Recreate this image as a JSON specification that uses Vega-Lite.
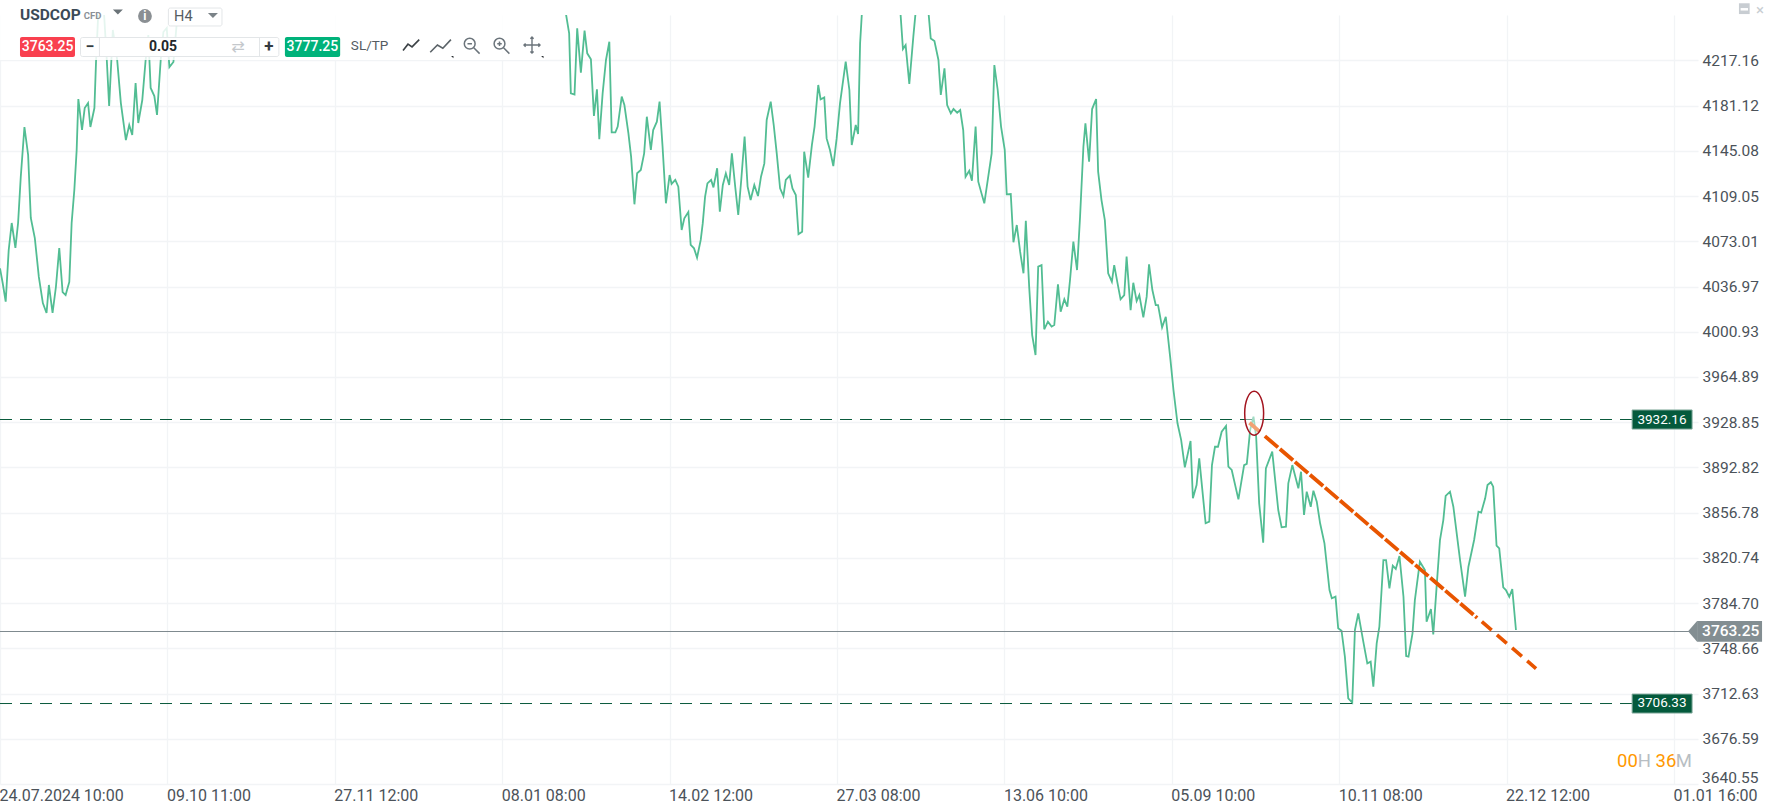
{"$schema":"https://vega.github.io/schema/vega-lite/v6.json","width":1698,"height":769,"autosize":{"type":"none"},"padding":{"left":0,"top":15,"right":67,"bottom":26},"background":"white","config":{"font":"Roboto","view":{"stroke":null},"axis":{"title":null}},"data":{"values":[{}]},"layer":[
{"data":{"values":[
{"bar":0,"price":4051.5},{"bar":0.8,"price":4039.8},{"bar":1.7,"price":4024.9},{"bar":2.6,"price":4066.1},{"bar":3.5,"price":4087.6},{"bar":4.6,"price":4067.7},{"bar":5.4,"price":4087.6},{"bar":6.2,"price":4124.3},{"bar":7.3,"price":4164.1},{"bar":8.4,"price":4141.8},{"bar":9.2,"price":4091.6},{"bar":10.4,"price":4075.6},{"bar":11.6,"price":4044.6},{"bar":12.8,"price":4023.8},{"bar":13.9,"price":4015.9},{"bar":14.6,"price":4038.2},{"bar":15.7,"price":4015.9},{"bar":16.7,"price":4036.6},{"bar":17.7,"price":4067.7},{"bar":18.7,"price":4032.6},{"bar":19.6,"price":4030.2},{"bar":20.7,"price":4040.6},{"bar":21.4,"price":4087.6},{"bar":22.2,"price":4113.9},{"bar":22.9,"price":4145.8},{"bar":23.4,"price":4186.4},{"bar":24.5,"price":4161.7},{"bar":25.3,"price":4179.2},{"bar":26.3,"price":4183.2},{"bar":27,"price":4164.1},{"bar":28.2,"price":4179.2},{"bar":28.7,"price":4217.5},{"bar":29.3,"price":4251.8},{"bar":30.2,"price":4258},{"bar":31.1,"price":4253.35},{"bar":31.9,"price":4217.5},{"bar":32.6,"price":4180.8},{"bar":33.7,"price":4241.4},{"bar":35,"price":4217.5},{"bar":36.1,"price":4183.2},{"bar":37.6,"price":4153.7},{"bar":38.6,"price":4165.7},{"bar":39.5,"price":4157.7},{"bar":40.5,"price":4199.2},{"bar":41.3,"price":4167.3},{"bar":42.5,"price":4185.6},{"bar":43.5,"price":4217.5},{"bar":44.3,"price":4237.4},{"bar":45,"price":4195.2},{"bar":46.1,"price":4188.8},{"bar":46.9,"price":4173.7},{"bar":48,"price":4217.5},{"bar":48.8,"price":4239.8},{"bar":49.8,"price":4243},{"bar":50.6,"price":4211.9},{"bar":51.8,"price":4215.9},{"bar":52.8,"price":4247},{"bar":53.3,"price":4253.35},{"bar":55,"price":4300},{"bar":100,"price":4320},{"bar":160,"price":4300},{"bar":168,"price":4270},
{"bar":169.1,"price":4253.3},{"bar":170,"price":4238.7},{"bar":170.5,"price":4190.9},{"bar":171.6,"price":4189.9},{"bar":172.4,"price":4242.7},{"bar":173.5,"price":4207.4},{"bar":174.6,"price":4240.9},{"bar":175.4,"price":4222.8},{"bar":176.5,"price":4218},{"bar":177.4,"price":4172.9},{"bar":178.3,"price":4194.1},{"bar":179,"price":4154.3},{"bar":180,"price":4190.9},{"bar":181,"price":4217.5},{"bar":182,"price":4232.1},{"bar":182.7,"price":4159.8},{"bar":183.8,"price":4159.8},{"bar":184.5,"price":4164.4},{"bar":185.7,"price":4188.3},{"bar":186.5,"price":4181.6},{"bar":187.7,"price":4159},{"bar":188.5,"price":4140.5},{"bar":189.5,"price":4102.5},{"bar":190.3,"price":4127.2},{"bar":191.4,"price":4129.8},{"bar":192.4,"price":4143.1},{"bar":193.2,"price":4172.3},{"bar":194.4,"price":4145.8},{"bar":195.1,"price":4161.7},{"bar":196.2,"price":4168.3},{"bar":197,"price":4184.3},{"bar":197.9,"price":4148.4},{"bar":198.9,"price":4103.3},{"bar":200,"price":4125.8},{"bar":200.6,"price":4118.7},{"bar":201.7,"price":4121.9},{"bar":202.6,"price":4116.5},{"bar":203.6,"price":4082},{"bar":204.4,"price":4091.3},{"bar":205.6,"price":4096.4},{"bar":206.3,"price":4070.1},{"bar":207.3,"price":4067.4},{"bar":208.2,"price":4060},{"bar":209.3,"price":4074.1},{"bar":209.9,"price":4087.3},{"bar":210.6,"price":4108.6},{"bar":211.3,"price":4119.2},{"bar":212.4,"price":4121.9},{"bar":213.1,"price":4116},{"bar":214.2,"price":4131.2},{"bar":215,"price":4096.6},{"bar":215.9,"price":4117.9},{"bar":216.8,"price":4127.2},{"bar":217.8,"price":4117.9},{"bar":218.6,"price":4143.1},{"bar":219.6,"price":4116.5},{"bar":220.5,"price":4094},{"bar":221.4,"price":4121.9},{"bar":222.4,"price":4156.4},{"bar":223.3,"price":4116.5},{"bar":224.2,"price":4105.9},{"bar":225.3,"price":4117.9},{"bar":226.4,"price":4109.1},{"bar":227.3,"price":4124.5},{"bar":228.3,"price":4135.1},{"bar":229,"price":4169.7},{"bar":230.2,"price":4184.3},{"bar":231.1,"price":4165.7},{"bar":232,"price":4143.1},{"bar":233,"price":4115.2},{"bar":234,"price":4109.1},{"bar":234.7,"price":4121.9},{"bar":235.9,"price":4125.3},{"bar":236.7,"price":4115.2},{"bar":237.7,"price":4109.9},{"bar":238.5,"price":4078.8},{"bar":239.6,"price":4080.7},{"bar":240.2,"price":4144.4},{"bar":241.4,"price":4123.7},{"bar":242.5,"price":4149.7},{"bar":243.3,"price":4164.4},{"bar":244.4,"price":4197.6},{"bar":245.1,"price":4186.1},{"bar":246.2,"price":4187.7},{"bar":246.9,"price":4155},{"bar":247.9,"price":4145.8},{"bar":248.9,"price":4133},{"bar":249.9,"price":4155},{"bar":250.9,"price":4182.9},{"bar":252.6,"price":4216.2},{"bar":253.7,"price":4193.6},{"bar":254.4,"price":4149.7},
{"bar":255.6,"price":4165.7},{"bar":256.3,"price":4158.5},{"bar":256.9,"price":4230.8},{"bar":257.4,"price":4253.3},{"bar":258,"price":4270},{"bar":262,"price":4300},{"bar":268,"price":4270},{"bar":269,"price":4253.3},{"bar":269.7,"price":4226.2},{"bar":270.5,"price":4229.4},{"bar":271.6,"price":4198.4},{"bar":272.8,"price":4236.1},{"bar":273.4,"price":4253.3},{"bar":275,"price":4262},{"bar":277.4,"price":4253.3},{"bar":278,"price":4234.7},{"bar":279.1,"price":4232.6},{"bar":280.3,"price":4217.5},{"bar":281,"price":4189.6},{"bar":282.1,"price":4210.8},{"bar":282.9,"price":4181.6},{"bar":284,"price":4175},{"bar":284.8,"price":4178.4},{"bar":285.9,"price":4175.5},{"bar":286.8,"price":4177.6},{"bar":287.7,"price":4161.7},{"bar":288.4,"price":4124.5},{"bar":289.5,"price":4129.3},{"bar":290.3,"price":4121.3},{"bar":291.4,"price":4164.4},{"bar":292.2,"price":4120.5},{"bar":293.1,"price":4111.8},{"bar":294,"price":4103.3},{"bar":295.1,"price":4123.2},{"bar":296.2,"price":4143.1},{"bar":297,"price":4213.5},{"bar":298,"price":4193.6},{"bar":299,"price":4164.4},{"bar":300.1,"price":4145.8},{"bar":300.7,"price":4110.4},{"bar":301.9,"price":4110.7},{"bar":302.7,"price":4072.2},{"bar":303.7,"price":4086},{"bar":304.7,"price":4064.7},{"bar":305.7,"price":4047.5},{"bar":306.4,"price":4089.4},{"bar":307.4,"price":4036.9},{"bar":308.3,"price":3998.3},{"bar":309.3,"price":3982.4},{"bar":310.1,"price":4052.8},{"bar":311.1,"price":4054.1},{"bar":311.9,"price":4002.9},{"bar":313,"price":4009},{"bar":314.1,"price":4005},{"bar":314.9,"price":4006.3},{"bar":316,"price":4038.7},{"bar":316.8,"price":4016.9},{"bar":317.9,"price":4026.8},{"bar":318.8,"price":4020.9},{"bar":319.6,"price":4042.2},{"bar":320.6,"price":4072.7},{"bar":321.7,"price":4050.1},{"bar":322.6,"price":4092.6},{"bar":323.6,"price":4148.4},{"bar":324.2,"price":4167},{"bar":325.3,"price":4136.5},{"bar":326.2,"price":4178.4},{"bar":327.4,"price":4186.4},{"bar":328,"price":4128.5},{"bar":329,"price":4105.9},{"bar":330,"price":4090},{"bar":331,"price":4047.5},{"bar":332.1,"price":4040.8},{"bar":332.8,"price":4054.1},{"bar":333.8,"price":4039.5},{"bar":334.7,"price":4026.8},{"bar":335.8,"price":4030.2},{"bar":336.5,"price":4060.8},{"bar":337.7,"price":4018.2},{"bar":338.5,"price":4040},{"bar":339.5,"price":4025.4},{"bar":340.3,"price":4030.2},{"bar":341.5,"price":4012.4},{"bar":342.5,"price":4028.9},{"bar":343.2,"price":4054.7},
{"bar":344.2,"price":4034.2},{"bar":345.2,"price":4022.2},{"bar":345.9,"price":4022.2},{"bar":347.1,"price":4004.4},{"bar":348.2,"price":4012.9},{"bar":349.5,"price":3981.1},{"bar":350.5,"price":3954.5},{"bar":351.7,"price":3928},{"bar":352.8,"price":3914.6},{"bar":353.9,"price":3892.9},{"bar":355.6,"price":3913.9},{"bar":356.3,"price":3868.2},{"bar":357.4,"price":3878.8},{"bar":358.2,"price":3900},{"bar":360.1,"price":3848.3},{"bar":361.2,"price":3849.6},{"bar":362,"price":3894.7},{"bar":362.9,"price":3909.3},{"bar":363.8,"price":3909.3},{"bar":364.9,"price":3921.3},{"bar":366.2,"price":3925.8},
{"bar":366.9,"price":3893.4},{"bar":367.9,"price":3890.8},{"bar":369.9,"price":3867.4},{"bar":371.6,"price":3894.7},{"bar":372.4,"price":3895.6},{"bar":373.4,"price":3922.6},{"bar":374.4,"price":3933.3},{"bar":375.2,"price":3917.3},{"bar":376.1,"price":3864.2},{"bar":377.3,"price":3832.8},{"bar":378.1,"price":3892.1},{"bar":380,"price":3905.4},{"bar":381.8,"price":3858.9},{"bar":382.8,"price":3845.1},{"bar":384.1,"price":3845.6},{"bar":384.8,"price":3880.1},{"bar":386,"price":3894.7},{"bar":387.8,"price":3876.2},{"bar":388.6,"price":3889.4},{"bar":389.5,"price":3854.9},{"bar":390.3,"price":3873.5},{"bar":391.5,"price":3861.5},{"bar":392.3,"price":3874.3},{"bar":393.3,"price":3865.5},{"bar":394.3,"price":3848.3},{"bar":395.6,"price":3832.3},{"bar":397.1,"price":3795.1},{"bar":397.8,"price":3788.5},{"bar":398.9,"price":3789.8},{"bar":399.7,"price":3764.6},{"bar":400.7,"price":3762.7},{"bar":401.7,"price":3742},{"bar":402.7,"price":3708.8},{"bar":403.9,"price":3705.4},{"bar":404.7,"price":3763.3},{"bar":405.7,"price":3776.5},{"bar":407.2,"price":3754},{"bar":408.4,"price":3736.7},{"bar":409.4,"price":3738},{"bar":410.2,"price":3718.1},{"bar":411.2,"price":3752.6},{"bar":412,"price":3765.9},{"bar":413.2,"price":3819},{"bar":414,"price":3819},{"bar":415,"price":3796.5},{"bar":416,"price":3814.5},{"bar":416.9,"price":3811.9},{"bar":418,"price":3822.2},{"bar":419.2,"price":3789.8},{"bar":420,"price":3742.5},{"bar":420.7,"price":3742},{"bar":421.9,"price":3760.6},{"bar":422.6,"price":3787.1},{"bar":424.1,"price":3817.7},{"bar":425.6,"price":3811.1},{"bar":426.1,"price":3769.9},{"bar":427.4,"price":3780},{"bar":428.1,"price":3759.8},{"bar":429.1,"price":3797.8},{"bar":430.1,"price":3835},{"bar":431.1,"price":3850.9},{"bar":431.8,"price":3870.1},{"bar":433.1,"price":3873.5},{"bar":434.1,"price":3861.5},{"bar":436.1,"price":3819},{"bar":437.6,"price":3789.8},{"bar":438.6,"price":3813.7},{"bar":440.3,"price":3835},{"bar":441.6,"price":3857.6},{"bar":442.4,"price":3856.8},{"bar":443.6,"price":3868.2},{"bar":444.3,"price":3878.8},{"bar":445.3,"price":3881},{"bar":446,"price":3877.5},{"bar":447,"price":3830.5},{"bar":447.8,"price":3828.3},{"bar":449,"price":3797.3},{"bar":449.8,"price":3795.1},{"bar":450.8,"price":3789.8},{"bar":451.7,"price":3795.9},{"bar":452.8,"price":3763.25}
]},
"mark":{"type":"line","color":"#52bd93","strokeWidth":1.8,"clip":true,"interpolate":"linear"},
"encoding":{
"x":{"field":"bar","type":"quantitative","scale":{"domain":[0,507.17],"nice":false,"zero":false},"axis":{"orient":"bottom","values":[0,50,100,150,200,250,300,350,400,450,500],"labelExpr":"['24.07.2024 10:00','09.10 11:00','27.11 12:00','08.01 08:00','14.02 12:00','27.03 08:00','13.06 10:00','05.09 10:00','10.11 08:00','22.12 12:00','01.01 16:00'][datum.value/50]","labelAlign":"left","labelBaseline":"top","labelPadding":3,"labelOffset":-1,"labelFontSize":16,"labelColor":"#4b5259","labelOverlap":false,"labelFlush":false,"labelBound":false,"ticks":false,"domain":false,"grid":true,"gridColor":"#f2f4f6","gridWidth":1.3}},
"y":{"field":"price","type":"quantitative","scale":{"domain":[3640.55,4253.35],"nice":false,"zero":false},"axis":{"orient":"right","values":[4217.16,4181.12,4145.08,4109.05,4073.01,4036.97,4000.93,3964.89,3928.85,3892.82,3856.78,3820.74,3784.7,3748.66,3712.63,3676.59,3640.55],"labelExpr":"datum.value<3641?'':format(datum.value,'.2f')","labelPadding":4,"labelFontSize":15.5,"labelColor":"#4b5259","labelOverlap":false,"labelFlush":false,"labelBound":false,"ticks":false,"domain":false,"grid":true,"gridColor":"#f2f4f6","gridWidth":1.3}}
}},
{"mark":{"type":"text","text":"3640.55","color":"#4b5259","fontSize":15.5,"align":"left","baseline":"middle"},"encoding":{"x":{"datum":508.4},"y":{"datum":3645.3}}},
{"mark":{"type":"rule","color":"#0a5a3c","strokeWidth":1,"strokeDash":[12,8]},"encoding":{"x":{"datum":0},"x2":{"datum":487.5},"y":{"datum":3931}}},
{"mark":{"type":"rule","color":"#0a5a3c","strokeWidth":1,"strokeDash":[12,8]},"encoding":{"x":{"datum":0},"x2":{"datum":487.5},"y":{"datum":3704.68}}},
{"mark":{"type":"rule","color":"#7f8a8f","strokeWidth":1},"encoding":{"x":{"datum":0},"x2":{"datum":505},"y":{"datum":3762.07}}},
{"data":{"values":[{"bar":373.2,"price":3928.4},{"bar":376.3,"price":3921.1}]},"mark":{"type":"line","color":"#e85500","strokeWidth":3.8},"encoding":{"x":{"field":"bar","type":"quantitative"},"y":{"field":"price","type":"quantitative"}}},
{"data":{"values":[{"bar":377.8,"price":3917.8},{"bar":441.2,"price":3772.9}]},"mark":{"type":"line","color":"#e85500","strokeWidth":3.8,"strokeDash":[17.3,2.5]},"encoding":{"x":{"field":"bar","type":"quantitative"},"y":{"field":"price","type":"quantitative"}}},
{"data":{"values":[{"bar":442.6,"price":3769.9},{"bar":458.8,"price":3732.5}]},"mark":{"type":"line","color":"#e85500","strokeWidth":3.6,"strokeDash":[13,7]},"encoding":{"x":{"field":"bar","type":"quantitative"},"y":{"field":"price","type":"quantitative"}}},
{"mark":{"type":"point","shape":"M-0.43,0A0.43,1 0 1,1 0.43,0A0.43,1 0 1,1 -0.43,0Z","size":1936,"filled":true,"fill":"white","fillOpacity":0.45,"stroke":"#a3141f","strokeOpacity":1,"strokeWidth":1.5,"opacity":1},"encoding":{"x":{"datum":374.6},"y":{"datum":3936}}},
{"mark":{"type":"rect","fill":"#045a3c","stroke":"#7fa89a","strokeWidth":1},"encoding":{"x":{"datum":487.5},"x2":{"datum":505.4},"y":{"datum":3938.6},"y2":{"datum":3923.4}}},
{"mark":{"type":"rect","fill":"#045a3c","stroke":"#7fa89a","strokeWidth":1},"encoding":{"x":{"datum":487.5},"x2":{"datum":505.4},"y":{"datum":3712.2},"y2":{"datum":3697.1}}},
{"mark":{"type":"text","text":"3932.16","color":"white","fontSize":13.5,"align":"center","baseline":"middle"},"encoding":{"x":{"datum":496.4},"y":{"datum":3930.6}}},
{"mark":{"type":"text","text":"3706.33","color":"white","fontSize":13.5,"align":"center","baseline":"middle"},"encoding":{"x":{"datum":496.4},"y":{"datum":3704.7}}},
{"mark":{"type":"rect","fill":"#838e92"},"encoding":{"x":{"datum":506.9},"x2":{"datum":526.3},"y":{"datum":3770.4},"y2":{"datum":3753.9}}},
{"mark":{"type":"point","shape":"M-0.9,0L0,-1.03L0,1.03Z","size":400,"filled":true,"fill":"#838e92","stroke":null,"opacity":1},"encoding":{"x":{"datum":506.9},"y":{"datum":3762.2}}},
{"mark":{"type":"text","text":"3763.25","color":"white","fontSize":15.5,"fontWeight":500,"align":"left","baseline":"middle"},"encoding":{"x":{"datum":508.4},"y":{"datum":3762.3}}},
{"mark":{"type":"text","text":"00","color":"#ff9800","fontSize":18.5,"align":"left","baseline":"middle"},"encoding":{"x":{"datum":483},"y":{"datum":3659.1}}},
{"mark":{"type":"text","text":"H","color":"#b8bec3","fontSize":18.5,"align":"left","baseline":"middle"},"encoding":{"x":{"datum":489.2},"y":{"datum":3659.1}}},
{"mark":{"type":"text","text":"36","color":"#ff9800","fontSize":18.5,"align":"left","baseline":"middle"},"encoding":{"x":{"datum":494.5},"y":{"datum":3659.1}}},
{"mark":{"type":"text","text":"M","color":"#b8bec3","fontSize":18.5,"align":"left","baseline":"middle"},"encoding":{"x":{"datum":500.5},"y":{"datum":3659.1}}},
{"mark":{"type":"rect","fill":"white","opacity":0.85},"encoding":{"x":{"datum":0},"x2":{"datum":162.8},"y":{"datum":4253.35},"y2":{"datum":4217.5}}},
{"mark":{"type":"text","text":"USDCOP","color":"#3b4a57","fontSize":15.5,"fontWeight":"bold","align":"left","baseline":"middle"},"encoding":{"x":{"datum":5.97},"y":{"datum":4253.35}}},
{"mark":{"type":"text","text":"CFD","color":"#8a9096","fontSize":9.5,"fontWeight":"bold","align":"left","baseline":"middle"},"encoding":{"x":{"datum":25},"y":{"datum":4252.55}}},
{"mark":{"type":"point","shape":"M-1,-0.5L1,-0.5L0,0.5Z","size":100,"filled":true,"fill":"#6b7378","stroke":null,"opacity":1},"encoding":{"x":{"datum":35.2},"y":{"datum":4255.7}}},
{"mark":{"type":"point","shape":"circle","size":190,"filled":true,"fill":"#8a8f93","stroke":null,"opacity":1},"encoding":{"x":{"datum":43.3},"y":{"datum":4252.55}}},
{"mark":{"type":"text","text":"i","color":"white","fontSize":12,"fontWeight":"bold","align":"center","baseline":"middle"},"encoding":{"x":{"datum":43.3},"y":{"datum":4252.55}}},
{"mark":{"type":"rect","fill":"white","stroke":"#e3e6e8","strokeWidth":1,"cornerRadius":2},"encoding":{"x":{"datum":50.3},"x2":{"datum":66.3},"y":{"datum":4258.9},"y2":{"datum":4244.6}}},
{"mark":{"type":"text","text":"H4","color":"#555c62","fontSize":14.5,"align":"left","baseline":"middle"},"encoding":{"x":{"datum":52},"y":{"datum":4251.75}}},
{"mark":{"type":"point","shape":"M-1,-0.5L1,-0.5L0,0.5Z","size":100,"filled":true,"fill":"#7b8388","stroke":null,"opacity":1},"encoding":{"x":{"datum":63.6},"y":{"datum":4252.95}}},
{"mark":{"type":"rect","fill":"#f9404f","cornerRadius":2},"encoding":{"x":{"datum":5.97},"x2":{"datum":22.4},"y":{"datum":4235.8},"y2":{"datum":4219.9}}},
{"mark":{"type":"text","text":"3763.25","color":"white","fontSize":14,"fontWeight":500,"align":"center","baseline":"middle"},"encoding":{"x":{"datum":14.2},"y":{"datum":4228.2}}},
{"mark":{"type":"rect","fill":"white","stroke":"#e3e6e8","strokeWidth":1,"cornerRadius":2},"encoding":{"x":{"datum":24.04},"x2":{"datum":83.3},"y":{"datum":4235.4},"y2":{"datum":4220.3}}},
{"mark":{"type":"rule","color":"#e3e6e8","strokeWidth":1},"encoding":{"x":{"datum":29.7},"y":{"datum":4235.4},"y2":{"datum":4220.3}}},
{"mark":{"type":"rule","color":"#e3e6e8","strokeWidth":1},"encoding":{"x":{"datum":77.5},"y":{"datum":4235.4},"y2":{"datum":4220.3}}},
{"mark":{"type":"text","text":"−","color":"#333a40","fontSize":16,"fontWeight":"bold","align":"center","baseline":"middle"},"encoding":{"x":{"datum":26.9},"y":{"datum":4228.2}}},
{"mark":{"type":"text","text":"0.05","color":"#22272b","fontSize":14,"fontWeight":"bold","align":"center","baseline":"middle"},"encoding":{"x":{"datum":48.7},"y":{"datum":4228.2}}},
{"mark":{"type":"text","text":"⇄","color":"#c4c8cc","font":"DejaVu Sans","fontSize":16,"align":"center","baseline":"middle"},"encoding":{"x":{"datum":71.1},"y":{"datum":4228.2}}},
{"mark":{"type":"text","text":"+","color":"#333a40","fontSize":17,"fontWeight":"bold","align":"center","baseline":"middle"},"encoding":{"x":{"datum":80.3},"y":{"datum":4228.2}}},
{"mark":{"type":"rect","fill":"#00b27a","cornerRadius":2},"encoding":{"x":{"datum":85.1},"x2":{"datum":101.6},"y":{"datum":4235.8},"y2":{"datum":4219.9}}},
{"mark":{"type":"text","text":"3777.25","color":"white","fontSize":14,"fontWeight":500,"align":"center","baseline":"middle"},"encoding":{"x":{"datum":93.3},"y":{"datum":4228.2}}},
{"mark":{"type":"text","text":"SL/TP","color":"#555c62","fontSize":13.5,"align":"left","baseline":"middle"},"encoding":{"x":{"datum":104.8},"y":{"datum":4229}}},
{"mark":{"type":"point","shape":"M-0.9,0.6L-0.35,-0.1L0.1,0.2L0.9,-0.6","size":324,"filled":false,"fill":null,"stroke":"#3c4246","strokeWidth":1.6,"opacity":1},"encoding":{"x":{"datum":122.8},"y":{"datum":4229.4}}},
{"mark":{"type":"point","shape":"M-1.3,0.8L-0.5,0L0.1,0.35L1,-0.6","size":324,"filled":false,"fill":null,"stroke":"#5b6368","strokeWidth":1.6,"opacity":1},"encoding":{"x":{"datum":132},"y":{"datum":4229.4}}},
{"mark":{"type":"point","shape":"M-1,-0.5L0.5,-0.5L0.5,1Z","size":10,"filled":true,"fill":"#2a2f33","stroke":null,"opacity":1},"encoding":{"x":{"datum":135.2},"y":{"datum":4220.1}}},
{"mark":{"type":"point","shape":"M-0.75,-0.15A0.6,0.6 0 1,1 0.45,-0.15A0.6,0.6 0 1,1 -0.75,-0.15M0.3,0.3L0.95,0.95M-0.4,-0.15L0.1,-0.15","size":324,"filled":false,"fill":null,"stroke":"#6b747b","strokeWidth":1.5,"opacity":1},"encoding":{"x":{"datum":140.7},"y":{"datum":4229.4}}},
{"mark":{"type":"point","shape":"M-0.75,-0.15A0.6,0.6 0 1,1 0.45,-0.15A0.6,0.6 0 1,1 -0.75,-0.15M0.3,0.3L0.95,0.95M-0.4,-0.15L0.1,-0.15M-0.15,-0.4L-0.15,0.1","size":324,"filled":false,"fill":null,"stroke":"#6b747b","strokeWidth":1.5,"opacity":1},"encoding":{"x":{"datum":149.6},"y":{"datum":4229.4}}},
{"mark":{"type":"point","shape":"M-1,0L1,0M0,-1L0,1M-0.8,-0.2L-1,0L-0.8,0.2M0.8,-0.2L1,0L0.8,0.2M-0.2,-0.8L0,-1L0.2,-0.8M-0.2,0.8L0,1L0.2,0.8","size":256,"filled":false,"fill":null,"stroke":"#6b747b","strokeWidth":1.4,"opacity":1},"encoding":{"x":{"datum":158.9},"y":{"datum":4229.4}}},
{"mark":{"type":"point","shape":"M-1,-0.5L0.5,-0.5L0.5,1Z","size":10,"filled":true,"fill":"#2a2f33","stroke":null,"opacity":1},"encoding":{"x":{"datum":162.1},"y":{"datum":4220.1}}},
{"mark":{"type":"rect","fill":"#c8cdd2"},"encoding":{"x":{"datum":519.4},"x2":{"datum":522.6},"y":{"datum":4262.7},"y2":{"datum":4254.1}}},
{"mark":{"type":"rect","fill":"white"},"encoding":{"x":{"datum":519.9},"x2":{"datum":522.1},"y":{"datum":4258.9},"y2":{"datum":4256.9}}},
{"mark":{"type":"text","text":"×","color":"#c8cdd2","fontSize":15,"align":"center","baseline":"middle"},"encoding":{"x":{"datum":525.7},"y":{"datum":4257.5}}}
]}
